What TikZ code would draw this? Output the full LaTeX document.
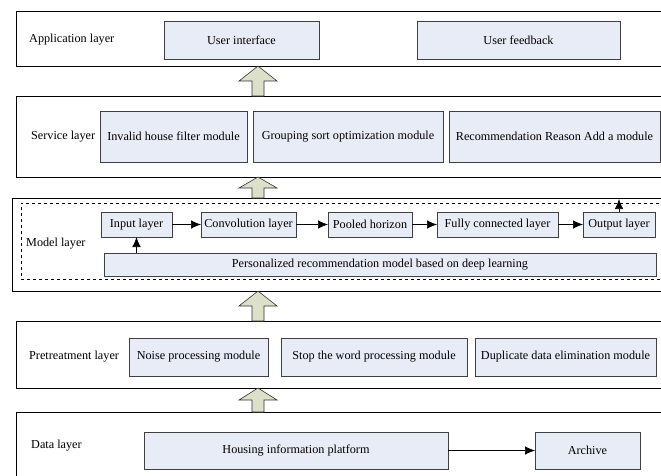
\documentclass[tikz,border=0pt]{standalone}
\usepackage{fontspec}
\setmainfont{Liberation Serif}
\usepackage{tikz}
\usetikzlibrary{arrows.meta, calc, positioning}

\definecolor{modfill}{RGB}{232,236,247}
\definecolor{liftfill}{RGB}{221,224,200}

\begin{document}
\begin{tikzpicture}[
  x=1pt, y=-1pt,
  font=\fontsize{12.2}{14}\selectfont,
  > = {Latex[length=10pt,width=8.5pt]},
  layer/.style = {draw=black, line width=0.8pt, inner sep=0pt, outer sep=0pt},
  mod/.style = {draw=black!75, fill=modfill, line width=0.7pt, inner sep=0pt, outer sep=0pt},
  lbl/.style = {anchor=west, inner sep=0pt},
  lift/.style = {draw=black!80, fill=liftfill, line width=0.6pt},
  flow/.style = {->, line width=0.7pt}
  ]
  \useasboundingbox (0,0) rectangle (661,475);
  \clip (0,0) rectangle (661,475);

  % layers
  \node[layer, minimum width=652pt, minimum height=55pt] (app) at (342,38.5) {};
  \node[layer, minimum width=652pt, minimum height=81pt] (svc) at (342,136.5) {};
  \node[layer, minimum width=656pt, minimum height=93pt] (mdl) at (340,244.5) {};
  \node[layer, dashed, line width=0.6pt, minimum width=647pt, minimum height=76pt] (dash) at (344.5,241) {};
  \node[layer, minimum width=652pt, minimum height=67pt] (pre) at (342,354.5) {};
  \node[layer, minimum width=652pt, minimum height=68pt] (dat) at (342,446) {};

  \node[lbl] (applbl) at (29,40) {Application layer};
  \node[lbl] (svclbl) at (31,136.5) {Service layer};
  \node[lbl] (mdllbl) at (26,244) {Model layer};
  \node[lbl] (prelbl) at (29,357) {Pretreatment layer};
  \node[lbl] (datlbl) at (31,446) {Data layer};

  % application layer
  \node[mod, minimum width=155pt, minimum height=38pt] (ui) at (241.5,40) {User interface};
  \node[mod, minimum width=203pt, minimum height=38pt] (uf) at (518.5,40) {User feedback};

  % service layer
  \node[mod, minimum width=147pt, minimum height=51pt] (inv) at (173.5,136.5) {Invalid house filter module};
  \node[mod, minimum width=190pt, minimum height=51pt] (grp) at (348,136.5) {Grouping sort optimization module};
  \node[mod, minimum width=211pt, minimum height=51pt] (rec) at (554.5,136.5) {Recommendation Reason Add a module};

  % model layer
  \node[mod, minimum width=71pt, minimum height=25pt] (in) at (136.5,224.5) {Input layer};
  \node[mod, minimum width=95pt, minimum height=25pt] (conv) at (248.5,224.5) {Convolution layer};
  \node[mod, minimum width=84pt, minimum height=25pt] (pool) at (370,224.5) {Pooled horizon};
  \node[mod, minimum width=121pt, minimum height=25pt] (fc) at (497.5,224.5) {Fully connected layer};
  \node[mod, minimum width=72pt, minimum height=25pt] (out) at (619,224.5) {Output layer};
  \node[mod, minimum width=552pt, minimum height=23pt] (pers) at (380,264.5) {Personalized recommendation model based on deep learning};
  \draw[flow] (in) -- (conv);
  \draw[flow] (conv) -- (pool);
  \draw[flow] (pool) -- (fc);
  \draw[flow] (fc) -- (out);
  \draw[flow] (in.south |- pers.north) -- (in.south);
  \draw[flow, shorten >=-4pt] (out.north) -- (out.north |- dash.north);

  % pretreatment layer
  \node[mod, minimum width=139pt, minimum height=38pt] (noise) at (198.5,357) {Noise processing module};
  \node[mod, minimum width=186pt, minimum height=38pt] (stop) at (374,357) {Stop the word processing module};
  \node[mod, minimum width=181pt, minimum height=38pt] (dup) at (565.5,357) {Duplicate data elimination module};

  % data layer
  \node[mod, minimum width=304pt, minimum height=37pt] (house) at (296,450.5) {Housing information platform};
  \node[mod, minimum width=105pt, minimum height=37pt] (arch) at (587.5,450.5) {Archive};
  \draw[flow] (house) -- (arch);

  % arrows between layers
  \coordinate (arrx) at (258,0);
  \foreach \lo/\hi/\hl in {svc/app/15, mdl/svc/11, pre/mdl/15, dat/pre/12} {
    \filldraw[lift] let \p1=(arrx |- \lo.north), \p2=(arrx |- \hi.south) in
      ({\x1-6pt},{\y1}) -- ({\x1-6pt},{\y2-\hl pt}) -- ({\x1-19pt},{\y2-\hl pt})
      -- (\x1,\y2) -- ({\x1+19pt},{\y2-\hl pt}) -- ({\x1+6pt},{\y2-\hl pt})
      -- ({\x1+6pt},{\y1}) -- cycle;
  }
\end{tikzpicture}
\end{document}
